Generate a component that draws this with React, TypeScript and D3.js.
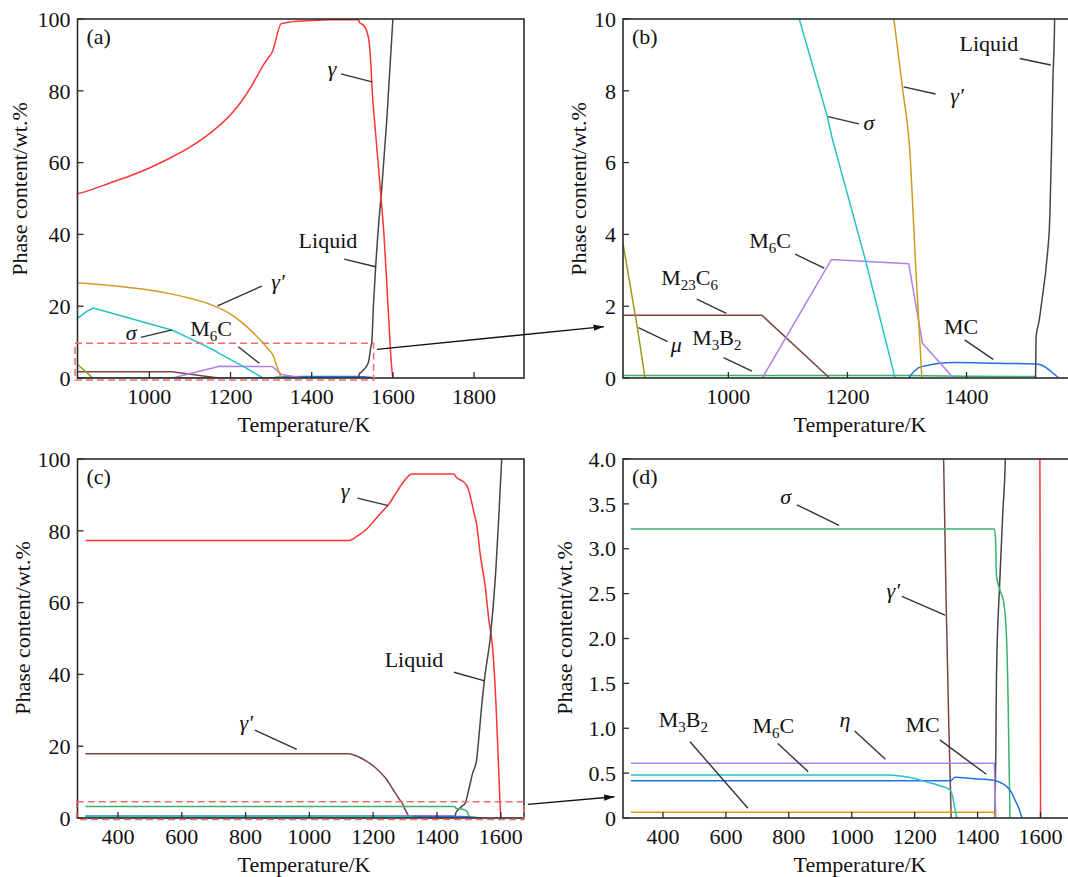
import React from 'react';
import * as d3 from 'd3';

type Pt = [number, number];

// ---- alloy 1 : panels (a) and (b) ----
const gammaA: Pt[] = [[823, 51.3], [850, 52.2], [900, 54.2], [950, 56.2], [1000, 58.5], [1050, 61.2], [1100, 64.3], [1150, 68.2], [1200, 73.3], [1230, 77.5], [1250, 81], [1270, 85], [1281, 87.2], [1295, 89.5], [1302, 90.6], [1325, 98.7], [1350, 99.2], [1400, 99.6], [1450, 99.8], [1515, 99.8], [1518, 99], [1528, 98.2], [1536, 96.5], [1542, 93], [1546, 87], [1549, 80], [1556, 70], [1565, 58], [1571, 50], [1578, 40], [1588, 20], [1597, 3], [1600, 0]];
const liquidA: Pt[] = [[1516, 0], [1517, 1.15], [1522, 1.6], [1527, 2.2], [1535, 3.3], [1540, 4.5], [1543, 6.5], [1545, 8.2], [1548, 10], [1552, 20], [1557, 30], [1565, 43], [1572, 52], [1585, 72], [1600, 100]];
const gammaPrimeA: Pt[] = [[823, 26.5], [900, 25.8], [1000, 24.5], [1050, 23.5], [1100, 22.2], [1150, 20.5], [1200, 17.8], [1230, 15.3], [1255, 12.7], [1278, 10], [1293, 8], [1304, 6.5], [1315, 3], [1325, 0]];
const sigmaA: Pt[] = [[823, 16.6], [845, 18.5], [862, 19.5], [1057, 13.3], [1119, 10], [1166, 7.3], [1174, 6.7], [1230, 3.3], [1280, 0]];
const m6cA: Pt[] = [[1057, 0], [1173, 3.3], [1303, 3.18], [1326, 0.97], [1378, 0]];
const m23c6A: Pt[] = [[823, 1.75], [1056, 1.75], [1170, 0]];
const muA: Pt[] = [[823, 3.75], [847, 1.42], [860, 0]];
const m3b2A: Pt[] = [[823, 0.07], [1300, 0.07], [1400, 0.05], [1515, 0.04], [1517, 0]];
const mcA: Pt[] = [[1303, 0], [1313, 0.2], [1323, 0.31], [1380, 0.43], [1450, 0.41], [1516, 0.39], [1524, 0.37], [1531, 0.32], [1542, 0.18], [1550, 0.07], [1555, 0]];

// ---- alloy 2 : panels (c) and (d) ----
const gammaC: Pt[] = [[298, 77.3], [1124, 77.3], [1150, 78.5], [1180, 80.5], [1205, 83], [1230, 85.5], [1250, 87.5], [1275, 91], [1300, 94.2], [1314, 95.5], [1324, 95.8], [1453, 95.8], [1460, 95], [1470, 94.3], [1481, 93.8], [1490, 93], [1497, 92], [1505, 89.5], [1515, 85.5], [1525, 81.5], [1535, 74], [1552, 64], [1563, 55], [1574, 48], [1585, 32], [1592, 17], [1597, 6], [1600, 0]];
const liquidC: Pt[] = [[1455, 0], [1458, 0.8], [1460, 1.6], [1470, 2.6], [1480, 3.4], [1488, 4], [1500, 8], [1512, 12.5], [1524, 16], [1532, 23], [1540, 31], [1551, 40], [1567, 50], [1584, 68], [1594, 84], [1603, 100]];
const gammaPrimeC: Pt[] = [[298, 17.9], [1124, 17.9], [1150, 17.2], [1180, 15.8], [1210, 13.8], [1240, 11], [1262, 8], [1280, 5.5], [1292, 4], [1300, 2.4], [1308, 1.1], [1316, 0]];
const sigmaC: Pt[] = [[298, 3.22], [1453, 3.22], [1457, 3.1], [1460, 2.7], [1470, 2.55], [1483, 2.4], [1492, 2.0], [1497, 1.3], [1500, 0.6], [1503, 0]];
const etaC: Pt[] = [[298, 0.61], [1453, 0.61], [1458, 0]];
const m6cC: Pt[] = [[298, 0.48], [1117, 0.48], [1160, 0.465], [1200, 0.44], [1240, 0.4], [1280, 0.36], [1313, 0.31], [1320, 0.25], [1327, 0.12], [1334, 0]];
const mcC: Pt[] = [[298, 0.415], [1315, 0.415], [1322, 0.44], [1330, 0.455], [1380, 0.44], [1450, 0.42], [1475, 0.39], [1493, 0.35], [1505, 0.3], [1519, 0.2], [1532, 0.1], [1541, 0]];
const m3b2C: Pt[] = [[298, 0.065], [1450, 0.065], [1452, 0.06], [1456, 0]];

// ---- ticks ----
const xTicksA = [1000, 1200, 1400, 1600, 1800];
const xTicksB = [1000, 1200, 1400];
const xTicksCD = [400, 600, 800, 1000, 1200, 1400, 1600];
const yTicksAC = [0, 20, 40, 60, 80, 100];
const yTicksB = [0, 2, 4, 6, 8, 10];
const yTicksD = [0, 0.5, 1, 1.5, 2, 2.5, 3, 3.5, 4];
const yTickLabelsD = ['0', '0.5', '1.0', '1.5', '2.0', '2.5', '3.0', '3.5', '4.0'];

const C = {
  red: '#ff3434',
  liquid: '#454545',
  gold: '#cf9b1f',
  cyan: '#25c3c8',
  purple: '#b27fe6',
  brown: '#7a4444',
  olive: '#9c9a16',
  green: '#38b26a',
  blue: '#2271e0',
  ochre: '#d79c12',
};

const FONT = "'Liberation Serif', 'Times New Roman', serif";

type Series = { data: Pt[]; color: string; smooth?: boolean };
type Note = { text: string; italic?: boolean; at: Pt; from: Pt; to: Pt };

const seriesAB: Series[] = [
  { data: m3b2A, color: C.green },
  { data: mcA, color: C.blue, smooth: true },
  { data: m23c6A, color: C.brown },
  { data: muA, color: C.olive },
  { data: m6cA, color: C.purple },
  { data: sigmaA, color: C.cyan },
  { data: gammaPrimeA, color: C.gold, smooth: true },
  { data: liquidA, color: C.liquid, smooth: true },
  { data: gammaA, color: C.red, smooth: true },
];

const seriesCD: Series[] = [
  { data: gammaC, color: C.red, smooth: true },
  { data: liquidC, color: C.liquid, smooth: true },
  { data: gammaPrimeC, color: C.brown, smooth: true },
  { data: sigmaC, color: C.green, smooth: true },
  { data: m3b2C, color: C.ochre },
  { data: etaC, color: C.purple },
  { data: mcC, color: C.blue, smooth: true },
  { data: m6cC, color: C.cyan, smooth: true },
];

// label annotations, in data units of each panel
const notesA: Note[] = [
  { text: 'γ', italic: true, at: [1450, 84.1], from: [1472, 84.7], to: [1548.5, 82.5] },
  { text: 'Liquid', at: [1440, 36.2], from: [1480, 33.1], to: [1557, 31] },
  { text: 'γ′', italic: true, at: [1317, 24.8], from: [1277, 25.6], to: [1168, 20.1] },
  { text: 'σ', italic: true, at: [955, 10.6], from: [979, 11.3], to: [1056, 13.4] },
  { text: 'M_6C', at: [1152, 11.7], from: [1219, 8.7], to: [1271, 4.1] },
];
const notesB: Note[] = [
  { text: 'Liquid', at: [1437.6, 9.11], from: [1489.4, 8.9], to: [1541.5, 8.72] },
  { text: 'γ′', italic: true, at: [1384, 7.66], from: [1348, 7.91], to: [1294.4, 8.11] },
  { text: 'σ', italic: true, at: [1236, 6.91], from: [1219.3, 7.08], to: [1167.2, 7.28] },
  { text: 'M_6C', at: [1070, 3.62], from: [1112, 3.45], to: [1161, 3.06] },
  { text: 'M_23C_6', at: [935, 2.59], from: [947, 2.2], to: [996.5, 1.8] },
  { text: 'μ', italic: true, at: [912.5, 0.72], from: [898, 1.01], to: [849, 1.4] },
  { text: 'M_3B_2', at: [980.6, 0.92], from: [991.8, 0.57], to: [1039.7, 0.19] },
  { text: 'MC', at: [1390.8, 1.23], from: [1396.8, 1.06], to: [1444.9, 0.52] },
];
const notesC: Note[] = [
  { text: 'γ', italic: true, at: [1112, 89.1], from: [1150.6, 89.1], to: [1247.8, 87] },
  { text: 'Liquid', at: [1328, 42.1], from: [1453, 40.6], to: [1550, 38.2] },
  { text: 'γ′', italic: true, at: [802, 24.5], from: [829, 24.5], to: [960.6, 19.1] },
];
const notesD: Note[] = [
  { text: 'σ', italic: true, at: [790, 3.5], from: [825.7, 3.49], to: [959.2, 3.26] },
  { text: 'γ′', italic: true, at: [1132, 2.45], from: [1159.4, 2.47], to: [1296.4, 2.26] },
  { text: 'M_3B_2', at: [465, 1.01], from: [486, 0.85], to: [670, 0.108] },
  { text: 'M_6C', at: [751, 0.947], from: [765, 0.83], to: [861.6, 0.516] },
  { text: 'η', italic: true, at: [978.6, 1.017], from: [1009.4, 0.97], to: [1107, 0.654] },
  { text: 'MC', at: [1225, 0.96], from: [1280, 0.87], to: [1427.6, 0.487] },
];

type Panel = {
  id: string;
  tag: string;
  x: d3.ScaleLinear<number, number>;
  y: d3.ScaleLinear<number, number>;
  right: number;
  xTicks: number[];
  yTicks: number[];
  yLabels?: string[];
  series: Series[];
  notes: Note[];
  titleX: number;
  yTitleX: number;
  yTitleY: number;
  box?: [Pt, Pt];
};

const panels: Panel[] = [
  {
    id: 'a', tag: '(a)',
    x: d3.scaleLinear().domain([823, 1923]).range([77.5, 524]),
    y: d3.scaleLinear().domain([0, 100]).range([378, 19]),
    right: 524, xTicks: xTicksA, yTicks: yTicksAC, series: seriesAB, notes: notesA,
    titleX: 304, yTitleX: 27, yTitleY: 189,
    box: [[816.8, -0.56], [1552.5, 9.67]],
  },
  {
    id: 'b', tag: '(b)',
    x: d3.scaleLinear().domain([823, 1573]).range([623, 1069.5]),
    y: d3.scaleLinear().domain([0, 10]).range([378, 19]),
    right: 1080, xTicks: xTicksB, yTicks: yTicksB, series: seriesAB, notes: notesB,
    titleX: 860, yTitleX: 586, yTitleY: 189,
  },
  {
    id: 'c', tag: '(c)',
    x: d3.scaleLinear().domain([273, 1673]).range([77.5, 524]),
    y: d3.scaleLinear().domain([0, 100]).range([818, 459]),
    right: 524, xTicks: xTicksCD, yTicks: yTicksAC, series: seriesCD, notes: notesC,
    titleX: 304, yTitleX: 30, yTitleY: 628,
    box: [[270.5, -0.42], [1673, 4.54]],
  },
  {
    id: 'd', tag: '(d)',
    x: d3.scaleLinear().domain([273, 1700]).range([623, 1072]),
    y: d3.scaleLinear().domain([0, 4]).range([818, 459]),
    right: 1080, xTicks: xTicksCD, yTicks: yTicksD, yLabels: yTickLabelsD, series: seriesCD, notes: notesD,
    titleX: 860, yTitleX: 572, yTitleY: 628,
  },
];

// arrows from the dashed boxes to the zoomed panels: [panel, point]
const arrows: [[string, Pt], [string, Pt]][] = [
  [['a', [1560.8, 8.0]], ['b', [791, 1.43]]],
  [['c', [1685, 3.8]], ['d', [246, 0.237]]],
];

function Label({ x, y, text, italic }: { x: number; y: number; text: string; italic?: boolean }) {
  const parts = text.split(/(_\d+)/).filter(Boolean);
  return (
    <text x={x} y={y} textAnchor="middle" fontSize={22} fontStyle={italic ? 'italic' : 'normal'} fill="#111">
      {parts.map((p, i) => {
        if (p.startsWith('_')) return <tspan key={i} fontSize={15} dy={5}>{p.slice(1)}</tspan>;
        const prevSub = i > 0 && parts[i - 1].startsWith('_');
        return <tspan key={i} dy={prevSub ? -5 : 0}>{p}</tspan>;
      })}
    </text>
  );
}

function PanelView({ p }: { p: Panel }) {
  const [x0] = p.x.range();
  const [yb, yt] = p.y.range();
  const x1 = p.right;
  const lineLinear = d3.line<Pt>().x(d => p.x(d[0])).y(d => p.y(d[1]));
  const lineSmooth = d3.line<Pt>().x(d => p.x(d[0])).y(d => p.y(d[1])).curve(d3.curveMonotoneX);
  const fmt = (v: number, i: number) => (p.yLabels ? p.yLabels[i] : String(v));
  return (
    <g>
      <defs>
        <clipPath id={'clip-' + p.id}>
          <rect x={x0} y={yt} width={x1 - x0} height={yb - yt} />
        </clipPath>
      </defs>
      <g clipPath={`url(#clip-${p.id})`}>
        {p.series.map((s, i) => (
          <path key={i} d={(s.smooth ? lineSmooth : lineLinear)(s.data) || ''} fill="none" stroke={s.color} strokeWidth={1.5} strokeLinejoin="round" />
        ))}
      </g>
      {/* frame */}
      <rect x={x0} y={yt} width={x1 - x0} height={yb - yt} fill="none" stroke="#2b2b2b" strokeWidth={1.6} />
      {/* x ticks */}
      {p.xTicks.map(t => (
        <g key={'x' + t}>
          <line x1={p.x(t)} x2={p.x(t)} y1={yb} y2={yb - 6} stroke="#2b2b2b" strokeWidth={1.3} />
          <text x={p.x(t)} y={yb + 26} textAnchor="middle" fontSize={22} fill="#111">{t}</text>
        </g>
      ))}
      {/* y ticks */}
      {p.yTicks.map((t, i) => (
        <g key={'y' + t}>
          <line x1={x0} x2={x0 + 6} y1={p.y(t)} y2={p.y(t)} stroke="#2b2b2b" strokeWidth={1.3} />
          <text x={x0 - 7} y={p.y(t)} dy="0.35em" textAnchor="end" fontSize={22} fill="#111">{fmt(t, i)}</text>
        </g>
      ))}
      <text x={p.titleX} y={yb + 54} textAnchor="middle" fontSize={22} fill="#111">Temperature/K</text>
      <text transform={`translate(${p.yTitleX},${p.yTitleY}) rotate(-90)`} textAnchor="middle" fontSize={22} fill="#111">Phase content/wt.%</text>
      <text x={x0 + 9} y={yt + 25} fontSize={22} fill="#111">{p.tag}</text>
      {p.notes.map((n, i) => (
        <g key={'n' + i}>
          <line x1={p.x(n.from[0])} y1={p.y(n.from[1])} x2={p.x(n.to[0])} y2={p.y(n.to[1])} stroke={'#333'} strokeWidth={1.4} />
          <Label x={p.x(n.at[0])} y={p.y(n.at[1])} text={n.text} italic={n.italic} />
        </g>
      ))}
      {p.box && (
        <rect
          x={p.x(p.box[0][0])}
          y={p.y(p.box[1][1])}
          width={p.x(p.box[1][0]) - p.x(p.box[0][0])}
          height={p.y(p.box[0][1]) - p.y(p.box[1][1])}
          fill="none" stroke="#f26b6b" strokeWidth={1.5} strokeDasharray="7,4"
        />
      )}
    </g>
  );
}

export default function App() {
  const byId: Record<string, Panel> = {};
  panels.forEach(p => { byId[p.id] = p; });
  const pos = (id: string, pt: Pt): Pt => [byId[id].x(pt[0]), byId[id].y(pt[1])];
  return (
    <svg width={1068} height={877} style={{ position: 'absolute', left: 0, top: 0, background: '#fff' }} fontFamily={FONT}>
      <defs>
        <marker id="arrowhead" viewBox="0 0 10 10" refX={10} refY={5} markerWidth={8} markerHeight={8} orient="auto">
          <path d="M0,2 L10,5 L0,8 z" fill="#111" />
        </marker>
      </defs>
      <rect x={0} y={0} width={1068} height={877} fill="#fff" />
      {panels.map(p => <PanelView key={p.id} p={p} />)}
      {arrows.map(([a, b], i) => {
        const s = pos(a[0], a[1]);
        const e = pos(b[0], b[1]);
        return <line key={i} x1={s[0]} y1={s[1]} x2={e[0]} y2={e[1]} stroke="#111" strokeWidth={1.3} markerEnd="url(#arrowhead)" />;
      })}
    </svg>
  );
}
